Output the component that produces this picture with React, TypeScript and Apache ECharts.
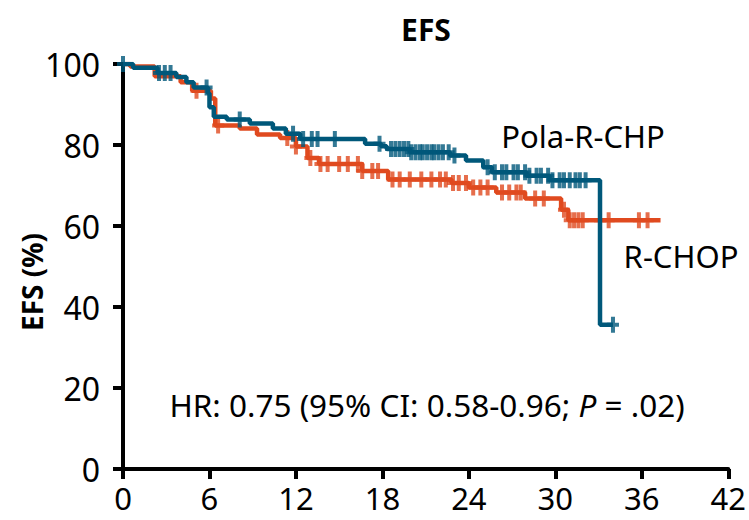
import React, { useEffect, useRef } from "react";
import * as echarts from "echarts";

// Kaplan-Meier step points: [month at which the curve steps, EFS % after the step]
const polaTimes = [0, 0.7, 2.4, 3.7, 4.4, 4.9, 5.9, 6.0, 6.3, 7.2, 8.8, 10.4, 11.3, 12.3, 16.8, 17.9, 18.3, 19.9, 22.7, 23.8, 25.0, 25.6, 28.0, 29.6, 33.1, 34.0];
const polaSurv = [100, 99.1, 97.8, 96.8, 95.5, 94.2, 92.8, 89.3, 87.0, 86.3, 85.3, 84.1, 82.8, 81.5, 80.3, 79.7, 79.0, 78.2, 77.4, 76.2, 74.5, 73.3, 72.4, 71.3, 35.6, 35.6];
const polaCensor = [0, 2.5, 2.9, 3.3, 5.8, 8.1, 11.8, 12.5, 13.1, 13.5, 14.7, 17.8, 18.6, 18.9, 19.2, 19.5, 19.8, 20.0, 20.3, 20.6, 20.8, 21.1, 21.4, 21.6, 21.9, 22.2, 22.6, 23.0, 25.3, 25.8, 26.3, 26.6, 27.1, 27.4, 27.9, 28.2, 28.7, 29.0, 29.5, 29.8, 30.3, 30.6, 31.0, 31.4, 31.7, 32.1, 34.0];

const rchopTimes = [0, 0.5, 2.2, 4.0, 4.8, 6.1, 6.4, 8.1, 9.3, 10.9, 12.0, 12.8, 13.6, 16.6, 18.4, 22.8, 24.0, 25.9, 27.9, 30.4, 30.9, 37.3];
const rchopSurv = [100, 99.4, 97.0, 95.5, 93.4, 91.5, 84.8, 84.1, 82.6, 81.7, 79.6, 76.8, 75.3, 73.6, 71.5, 70.6, 69.5, 68.3, 66.8, 64.0, 61.4, 61.4];
const rchopCensor = [5.1, 6.6, 11.4, 12.0, 13.0, 13.7, 14.2, 15.0, 15.6, 16.3, 16.6, 17.3, 17.7, 18.7, 19.2, 19.9, 20.7, 21.4, 22.0, 22.4, 22.9, 23.3, 23.8, 24.3, 24.8, 25.3, 26.3, 26.8, 27.3, 27.6, 28.6, 29.2, 30.6, 31.0, 31.3, 31.6, 31.9, 33.1, 33.7, 35.8, 36.4];

const xTicks = { min: 0, max: 42, interval: 6 };
const yTicks = { min: 0, max: 100, interval: 20 };

const TEAL = "#00587a";
const ORANGE = "#e04a1f";
const FONT = "Noto Sans";

function levelAt(times: number[], surv: number[], t: number): number {
  let v = surv[0];
  for (let i = 0; i < times.length; i++) {
    if (times[i] <= t) v = surv[i];
  }
  return v;
}

const PLUS = "path://M4,0H8V6H12V10H8V16H4V10H0V6H4Z";

export default function App() {
  const ref = useRef<HTMLDivElement>(null);
  useEffect(() => {
    document.body.style.margin = "0";
    const chart = echarts.init(ref.current!, undefined, { renderer: "svg" });
    const axisCommon = {
      axisLine: { show: true, lineStyle: { color: "#000", width: 4 } },
      axisTick: { show: true, length: 10, lineStyle: { color: "#000", width: 4 } },
      splitLine: { show: false },
      axisLabel: { color: "#000", fontSize: 32, fontFamily: FONT, lineHeight: 30 },
    };
    chart.setOption({
      animation: false,
      backgroundColor: "#fff",
      grid: { left: 123, right: 20, top: 64, bottom: 51, containLabel: false },
      xAxis: {
        type: "value",
        ...xTicks,
        ...axisCommon,
        axisLabel: { ...axisCommon.axisLabel, fontSize: 31, margin: 14 },
      },
      yAxis: {
        type: "value",
        ...yTicks,
        ...axisCommon,
        axisLabel: { ...axisCommon.axisLabel, margin: 23 },
      },
      series: [
        {
          type: "line",
          step: "end",
          data: rchopTimes.map((t, i) => [t, rchopSurv[i]]),
          showSymbol: false,
          symbol: "none",
          lineStyle: { color: ORANGE, width: 4.5 },
          z: 2,
        },
        {
          type: "scatter",
          data: rchopCensor.map((t) => [t, levelAt(rchopTimes, rchopSurv, t)]),
          symbol: PLUS,
          symbolSize: [12, 16],
          itemStyle: { color: ORANGE },
          z: 2,
        },
        {
          type: "line",
          step: "end",
          data: polaTimes.map((t, i) => [t, polaSurv[i]]),
          showSymbol: false,
          symbol: "none",
          lineStyle: { color: TEAL, width: 4.5 },
          z: 3,
        },
        {
          type: "scatter",
          data: polaCensor.map((t) => [t, levelAt(polaTimes, polaSurv, t)]),
          symbol: PLUS,
          symbolSize: [12, 16],
          itemStyle: { color: TEAL },
          z: 3,
        },
      ],
      graphic: [
        {
          type: "text",
          x: 426,
          y: 29,
          style: { text: "EFS", fontSize: 30, fontWeight: "bold", fontFamily: FONT, fill: "#000", align: "center", verticalAlign: "middle" },
        },
        {
          type: "text",
          x: 32,
          y: 282,
          rotation: Math.PI / 2,
          style: { text: "EFS (%)", fontSize: 28, fontWeight: "bold", fontFamily: FONT, fill: "#000", align: "center", verticalAlign: "middle" },
        },
        {
          type: "text",
          x: 427,
          y: 404,
          style: {
            text: "HR: 0.75 (95% CI: 0.58-0.96; {i|P} = .02)",
            fontSize: 31.5,
            fontFamily: FONT,
            fill: "#000",
            align: "center",
            verticalAlign: "middle",
            rich: { i: { fontStyle: "italic", fontSize: 31.5, fontFamily: FONT, fill: "#000" } },
          },
        },
        {
          type: "text",
          x: 583,
          y: 136,
          style: { text: "Pola-R-CHP", fontSize: 31, fontFamily: FONT, fill: "#000", align: "center", verticalAlign: "middle" },
        },
        {
          type: "text",
          x: 681,
          y: 256,
          style: { text: "R-CHOP", fontSize: 31, fontFamily: FONT, fill: "#000", align: "center", verticalAlign: "middle" },
        },
      ],
    });
    return () => chart.dispose();
  }, []);
  return <div ref={ref} style={{ position: "fixed", left: 0, top: 0, width: 749, height: 520 }} />;
}
